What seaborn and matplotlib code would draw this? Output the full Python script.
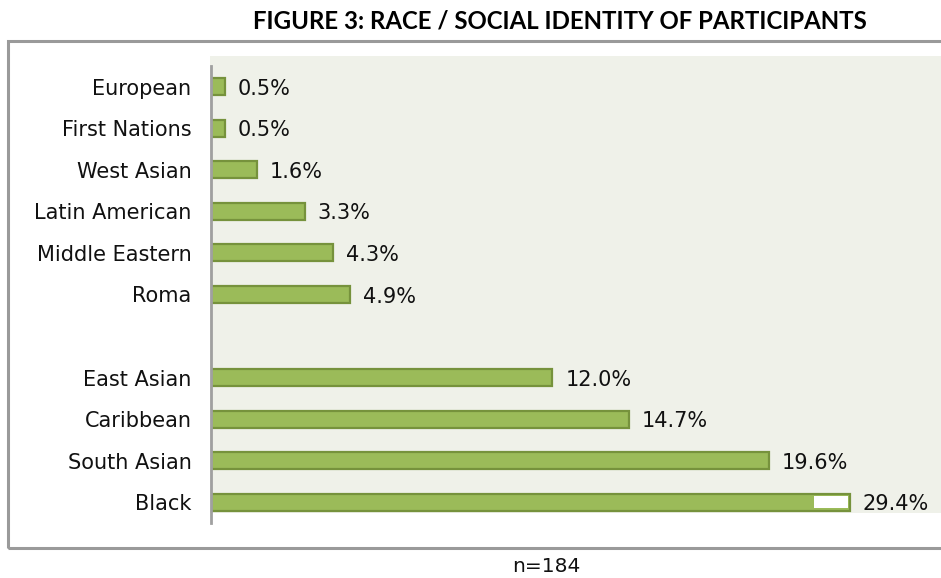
import matplotlib
matplotlib.use("Agg")
import matplotlib.pyplot as plt
from matplotlib.patches import Rectangle
import seaborn as sns
import pandas as pd

# Race / social identity of participants (percent of n=184)
categories = ["European", "First Nations", "West Asian", "Latin American",
              "Middle Eastern", "Roma", "East Asian", "Caribbean",
              "South Asian", "Black"]
percentages = [0.5, 0.5, 1.6, 3.3, 4.3, 4.9, 12.0, 14.7, 19.6, 29.4]
# display order, with a blank slot separating the two groups
row_order = ["European", "First Nations", "West Asian", "Latin American",
             "Middle Eastern", "Roma", " ", "East Asian", "Caribbean",
             "South Asian", "Black"]
title_text = "FIGURE 3: RACE / SOCIAL IDENTITY OF PARTICIPANTS"
note_text = "n=184"

# bars longer than this are shown broken at the axis break
axis_break = 22.45
break_gap_start = 21.2

bar_fill = "#9BBB59"
bar_edge = "#76923C"
panel_bg = "#EFF1E9"

W, H = 941, 578
sns.set_theme(style="white")
plt.rcParams["font.family"] = ["DejaVu Sans"]

fig = plt.figure(figsize=(W / 100, H / 100), dpi=100)

# outer frame and plot-area shading (behind the axes)
fig.patches.append(Rectangle((8 / W, 1 - 548 / H), (W + 10 - 8) / W, (548 - 41) / H,
                             transform=fig.transFigure, fill=False,
                             edgecolor="#9A9A9A", linewidth=2.2, zorder=-2))
fig.patches.append(Rectangle((210 / W, 1 - 513 / H), (W - 210) / W, (513 - 56) / H,
                             transform=fig.transFigure, facecolor=panel_bg,
                             edgecolor="none", zorder=-1))

ax = fig.add_axes([211 / W, 1 - 523 / H, (W - 211) / W, (523 - 66) / H])
ax.set_facecolor("none")
ax.set_zorder(1)

df = pd.DataFrame({"category": categories, "pct": percentages})
sns.barplot(data=df, x="pct", y="category", order=row_order, orient="h",
            color=bar_fill, edgecolor=bar_edge, linewidth=1.6, width=0.41,
            saturation=1, ax=ax)

# broken bar for values beyond the axis break
for patch in list(ax.patches):
    if patch.get_width() > axis_break:
        y0, h = patch.get_y(), patch.get_height()
        patch.set_width(axis_break)
        ax.add_patch(Rectangle((break_gap_start, y0 + 0.06), axis_break - break_gap_start - 0.05,
                               h - 0.12, facecolor="white", edgecolor="none", zorder=3))

ax.set_xlim(0, (W - 211) / 28.45)
ax.set_ylim(10.5, -0.5)

for name, v in zip(categories, percentages):
    i = row_order.index(name)
    x = min(v, axis_break)
    ax.text(x + 0.45, i + 0.05, f"{v:.1f}%", va="center", ha="left",
            fontsize=15, color="#111111")

ax.set_xlabel("")
ax.set_ylabel("")
ax.set_xticks([])
ax.tick_params(axis="y", length=0, pad=14, labelsize=15, labelcolor="#111111")
for s in ["top", "right", "bottom"]:
    ax.spines[s].set_visible(False)
ax.spines["left"].set_color("#A0A0A0")
ax.spines["left"].set_linewidth(2)

fig.text(560 / W, 1 - 21 / H, title_text, ha="center", va="center",
         fontsize=17.3, fontweight="bold", family=["Lato", "DejaVu Sans"], color="black")
fig.text(546 / W, 1 - 567 / H, note_text, ha="center", va="center",
         fontsize=14.5, color="#111111")

fig.savefig("out.png", dpi=100)
